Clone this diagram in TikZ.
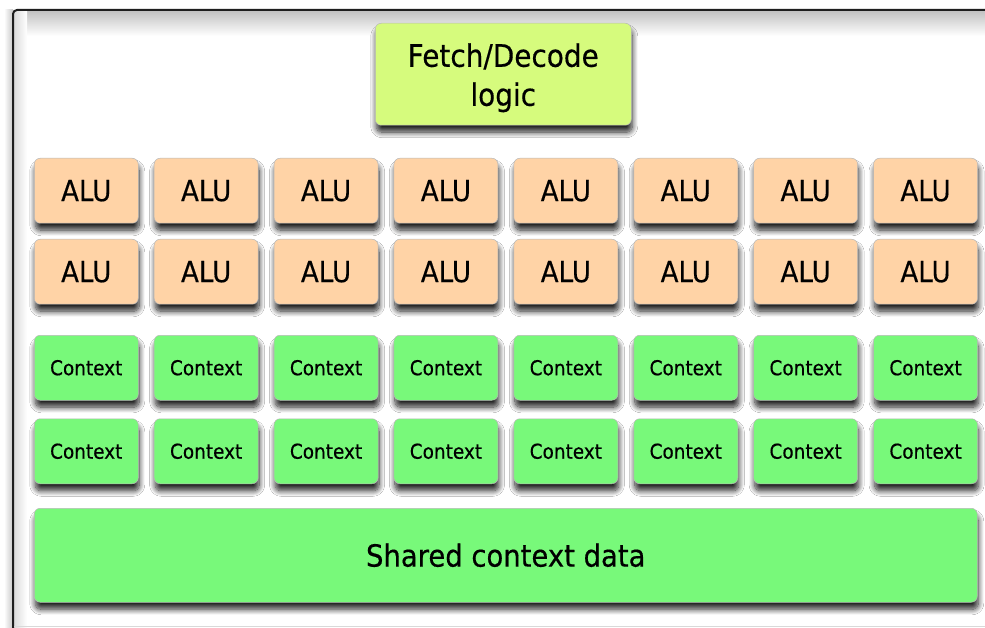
\documentclass[tikz,border=0pt]{standalone}
\usepackage{fontspec}
\setmainfont[FakeStretch=0.9,FakeBold=0.4]{DejaVu Sans}
\usetikzlibrary{shadows.blur}

\definecolor{aluorange}{RGB}{255,211,166}
\definecolor{ctxgreen}{RGB}{120,249,122}
\definecolor{fetchgreen}{RGB}{214,251,125}
\definecolor{framegray}{RGB}{30,30,30}

\begin{document}
\begin{tikzpicture}[x=1pt,y=-1pt,
  box/.style={rounded corners=6pt, draw=black!28, line width=0.5pt,
    inner sep=0pt, anchor=north west, text=black,
    blur shadow={shadow xshift=1pt, shadow yshift=-7pt,
      shadow blur radius=5.5pt, shadow blur steps=12, shadow opacity=85}},
  alubox/.style={box, fill=aluorange, minimum width=104pt, minimum height=65pt,
    font=\fontsize{29}{34}\selectfont},
  ctxbox/.style={box, fill=ctxgreen, minimum width=104pt, minimum height=65pt,
    font=\fontsize{20.5}{24}\selectfont},
  fetchbox/.style={box, fill=fetchgreen, minimum width=256pt, minimum height=102pt},
  fetchtext/.style={align=center, inner sep=0pt, text=black,
    font=\fontsize{31}{39}\selectfont},
  sharedbox/.style={box, fill=ctxgreen, minimum width=943pt, minimum height=94pt,
    font=\fontsize{30.5}{36}\selectfont}]

\useasboundingbox (0,0) rectangle (985,628);
\clip (0,0) rectangle (985,628);
\fill[white] (0,0) rectangle (985,628);

% soft haze outside the frame
\shade[left color=white, right color=black!22] (4,10) rectangle (13,628);

% inner shading along the top and left of the frame
\shade[top color=black!24, bottom color=white] (14,11) rectangle (990,36);
\shade[left color=black!14, right color=white] (14,11) rectangle (27,628);

% outer frame
\draw[framegray, line width=2pt, rounded corners=4pt] (13,10) rectangle (1010,660);
\draw[black!15, line width=0.8pt] (14,626) -- (985,626);

% fetch / decode unit
\node[fetchbox] (fetch) at (375,23) {};
\node[fetchtext] (fetch-label) at ([yshift=-3.5pt]fetch.center) {Fetch/Decode\\logic};

% ALUs and execution contexts, eight columns
\foreach \c in {0,...,7} {
  \pgfmathsetmacro{\xx}{34+119.9*\c}
  \node[alubox] (alu-1-\c) at (\xx,158) {ALU};
  \node[alubox] (alu-2-\c) at (\xx,239) {ALU};
  \node[ctxbox] (ctx-1-\c) at (\xx,335) {Context};
  \node[ctxbox] (ctx-2-\c) at (\xx,418.5) {Context};
}

% shared context storage
\node[sharedbox] (shared) at (34,508) {Shared context data};

\end{tikzpicture}
\end{document}
